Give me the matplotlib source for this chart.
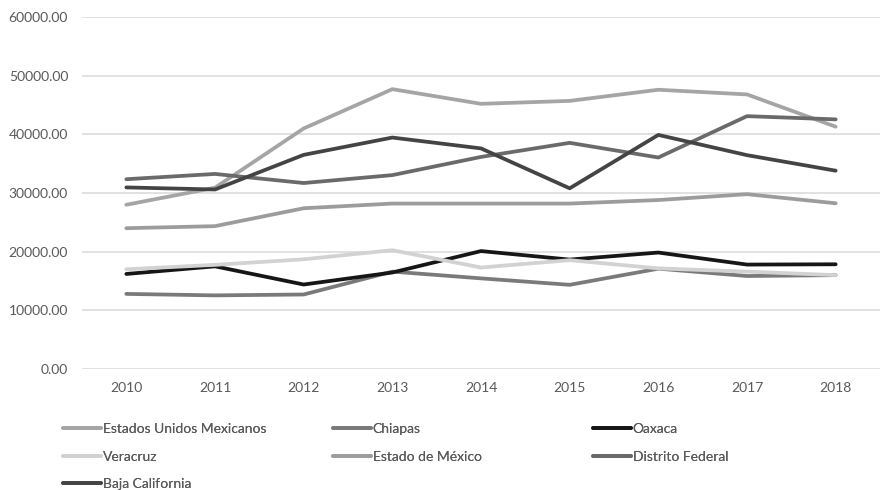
import matplotlib.pyplot as plt

plt.rcParams['font.family'] = ['Lato', 'DejaVu Sans']

anios = ["2010", "2011", "2012", "2013", "2014", "2015", "2016", "2017", "2018"]

nacional = [28000, 30900, 41000, 47700, 45200, 45700, 47600, 46800, 41300]
chiapas = [12800, 12550, 12700, 16600, 15450, 14350, 17100, 15850, 16000]
oaxaca = [16200, 17500, 14400, 16450, 20100, 18650, 19850, 17800, 17850]
veracruz = [17000, 17750, 18700, 20250, 17300, 18550, 17150, 16600, 16000]
edomex = [24000, 24350, 27400, 28200, 28200, 28200, 28800, 29800, 28250]
df = [32350, 33250, 31700, 33050, 36150, 38550, 36050, 43100, 42550]
baja = [30950, 30600, 36500, 39450, 37600, 30800, 39900, 36450, 33800]

series = [
    ("Estados Unidos Mexicanos", nacional, "#a5a5a5"),
    ("Chiapas", chiapas, "#7a7a7a"),
    ("Oaxaca", oaxaca, "#161616"),
    ("Veracruz", veracruz, "#d2d2d2"),
    ("Estado de México", edomex, "#9c9c9c"),
    ("Distrito Federal", df, "#6a6a6a"),
    ("Baja California", baja, "#444444"),
]

fig = plt.figure(figsize=(8.82, 4.9), dpi=100)
ax = fig.add_axes([82/882, 1-369/490, 798/882, 352/490])

lineas = {}
for nombre, valores, color in series:
    l, = ax.plot(range(len(anios)), valores, color=color, linewidth=2.7,
                 solid_capstyle="round", label=nombre)
    lineas[nombre] = l

ax.set_xlim(-0.5, len(anios) - 0.5)
ax.set_ylim(0, 60000)
ax.set_yticks(range(0, 60001, 10000))
ax.set_yticklabels([f"{v:.2f}" for v in range(0, 60001, 10000)])
ax.set_xticks(range(len(anios)))
ax.set_xticklabels(anios)
ax.grid(axis="y", color="#d9d9d9", linewidth=1.1)
ax.set_axisbelow(True)
for s in ax.spines.values():
    s.set_visible(False)
ax.tick_params(length=0, labelsize=10, colors="#595959", pad=10)
ax.tick_params(axis="x", pad=9)

# leyenda en tres columnas, colocadas a mano
columnas = [
    (63, ["Estados Unidos Mexicanos", "Veracruz", "Baja California"]),
    (333, ["Chiapas", "Estado de México"]),
    (593, ["Oaxaca", "Distrito Federal"]),
]
for x, nombres in columnas:
    leg = fig.legend([lineas[n] for n in nombres], nombres,
                     loc="upper left", bbox_to_anchor=(x/882, 1-423/490),
                     frameon=False, borderpad=0, borderaxespad=0,
                     handlelength=2.7, handletextpad=0.15, labelspacing=1.12,
                     fontsize=10, labelcolor="#595959")
    fig.add_artist(leg)

plt.savefig("out.png", dpi=100)
